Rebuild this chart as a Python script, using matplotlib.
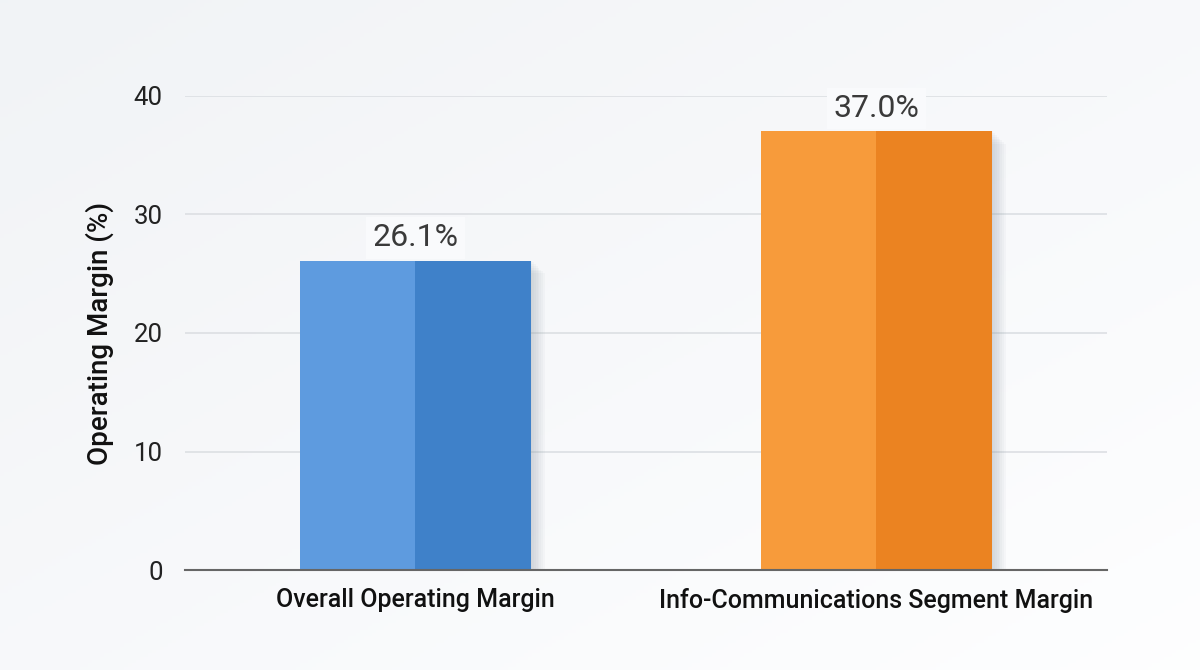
import numpy as np
import matplotlib
matplotlib.use("Agg")
import matplotlib.pyplot as plt

categories = ["Overall Operating Margin", "Info-Communications Segment Margin"]
values = [26.1, 37.0]
value_labels = ["26.1%", "37.0%"]
yticks = [0, 10, 20, 30, 40]

light_colors = ["#5E9BDF", "#F79B3B"]
dark_colors = ["#3F81C9", "#EB8321"]

plt.rcParams['font.family'] = ['Roboto', 'DejaVu Sans']

fig = plt.figure(figsize=(12, 6.7), dpi=100)

# background gradient
bg = fig.add_axes([0, 0, 1, 1], zorder=-10)
yy, xx = np.mgrid[0:1:200j, 0:1:300j]
g = 0.5 * (1 - yy) + 0.5 * (1 - xx)
base = np.array([0.945, 0.953, 0.965])
top = np.array([0.995, 0.997, 1.0])
img = base[None, None, :] * g[..., None] + top[None, None, :] * (1 - g[..., None])
bg.imshow(img, aspect='auto', extent=[0, 1, 0, 1], origin='upper')
bg.axis('off')

ax = fig.add_axes([0.154, 0.149, 0.7685, 0.708])
ax.set_facecolor('none')
x = np.arange(len(categories))
w = 0.5

# shadows
for k in range(8):
    off = 0.003 + k * 0.004
    ax.bar(x + off, [v - 0.15 * k for v in values], width=w, bottom=0, color='#8c95a3',
           alpha=0.05, zorder=1, linewidth=0)

ax.bar(x - w / 4, values, width=w / 2, color=light_colors, zorder=3, linewidth=0)
ax.bar(x + w / 4, values, width=w / 2, color=dark_colors, zorder=3, linewidth=0)

for xi, v, lab in zip(x, values, value_labels):
    ax.text(xi, v + 0.7, lab, ha='center', va='bottom', fontsize=23, color='#3a3a3a',
            zorder=5, bbox=dict(boxstyle='square,pad=0.2', fc='#f9fafc', ec='none'))

ax.set_xlim(-0.5, 1.5)
ax.set_ylim(0, 40)
ax.set_yticks(yticks)
ax.set_yticklabels([str(t) for t in yticks], fontsize=18.5, color='#222222')
ax.set_xticks(x)
ax.set_xticklabels(categories, fontsize=18, color='#111111', fontweight='medium')
ax.tick_params(axis='y', length=0, pad=16)
ax.tick_params(axis='x', length=0, pad=13)
ax.yaxis.grid(True, color='#dcdfe3', linewidth=1.2, zorder=0)
ax.set_axisbelow(True)
for s in ['top', 'right', 'left']:
    ax.spines[s].set_visible(False)
ax.spines['bottom'].set_color('#666666')
ax.spines['bottom'].set_linewidth(1.5)
ax.spines['bottom'].set_zorder(4)
ax.set_ylabel("Operating Margin (%)", fontsize=20, color='#111111', fontweight='medium', labelpad=14)

fig.savefig("out.png", dpi=100)
